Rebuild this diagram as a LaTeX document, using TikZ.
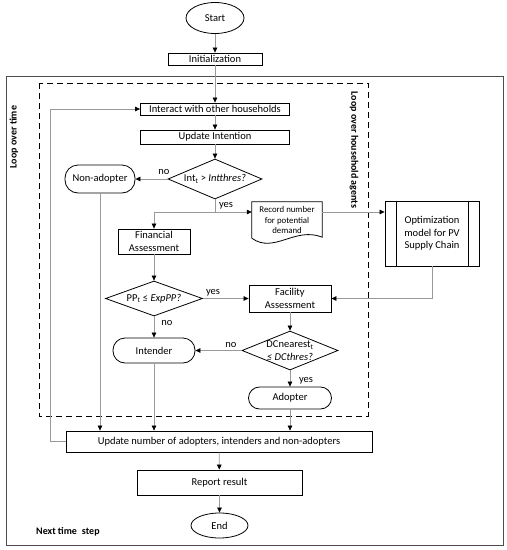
\documentclass[tikz,border=0pt]{standalone}
\usepackage{fontspec}
\setmainfont{Carlito}
\usetikzlibrary{shapes.geometric,arrows.meta,calc}
\begin{document}
\begin{tikzpicture}[x=1pt,y=-1pt,
  txt/.style={font=\fontsize{10.5}{12.3}\selectfont},
  box/.style={txt,draw=black,line width=0.8pt,rectangle,inner sep=1pt,align=center},
  term/.style={txt,draw=black,line width=0.8pt,ellipse,inner sep=0pt},
  rbox/.style={txt,draw=black,line width=0.8pt,rectangle,inner sep=1pt,align=center},
  dia/.style={txt,draw=black,line width=0.8pt,diamond,inner sep=0pt,align=center},
  conn/.style={draw=gray!80,line width=0.7pt},
  arr/.style={conn,-{Triangle[length=5pt,width=4.5pt,color=black]}},
  lbl/.style={txt,inner sep=0pt},
  blbl/.style={font=\bfseries\fontsize{10}{12}\selectfont,inner sep=0pt}
]
\useasboundingbox (0,0) rectangle (507,550);
% frames
\draw[draw=black!70,line width=0.9pt] (6,76) rectangle (503,545);
\draw[black,line width=1pt,dash pattern=on 6pt off 4pt] (39,83) rectangle (368,416);
\node[blbl,rotate=90] (lot) at (14,137) {Loop over time};
\node[blbl,rotate=-90] (loh) at (354,150) {Loop over household agents};
\node[blbl,anchor=west] (nts) at (36,532) {Next time\enspace step};

% nodes
\node[term,minimum width=58pt,minimum height=31pt] (start) at (215,18) {Start};
\node[box,minimum width=94pt,minimum height=12pt,inner sep=0pt] (init) at (215,59) {Initialization};
\node[box,minimum width=149pt,minimum height=12pt,inner sep=0pt] (inter) at (215,109) {Interact with other households};
\node[box,minimum width=149pt,minimum height=14pt,inner sep=0pt] (updint) at (215,137) {Update Intention};
\node[dia,minimum width=94pt,minimum height=40pt,aspect=2.35] (int) at (215,179) {Int\textsubscript{t} > \textit{Intthres?}};
\node[rbox,rounded corners=13pt,minimum width=70pt,minimum height=28pt] (non) at (100,179) {Non-adopter};
\node[box,minimum width=72pt,minimum height=25pt,inner sep=0pt] (fin) at (154,241.5) {Financial\\Assessment};
\node[font=\fontsize{8.8}{10.2}\selectfont,align=center,minimum width=70pt,minimum height=36pt,inner sep=0pt] (rec) at (287,220) {Record number\\for potential\\demand};
\draw[black,line width=0.8pt] (rec.south west) -- (rec.north west) -- (rec.north east) -- ($(rec.south east)+(0,-1)$)
  .. controls ($(rec.south east)+(-27,-12)$) and ($(rec.south west)+(22,16)$) .. (rec.south west);
\node[box,minimum width=94pt,minimum height=65pt,inner sep=0pt] (opt) at (432,233.5) {Optimization\\model for PV\\Supply Chain};
\draw[black,line width=0.8pt] ($(opt.north west)+(12,0)$) -- ($(opt.south west)+(12,0)$);
\draw[black,line width=0.8pt] ($(opt.north east)+(-11,0)$) -- ($(opt.south east)+(-11,0)$);
\node[dia,minimum width=97pt,minimum height=35pt,aspect=2.77] (pp) at (154,298.5) {PP\textsubscript{t} ≤ \textit{ExpPP?}};
\node[box,minimum width=82pt,minimum height=27pt,inner sep=0pt] (fac) at (290,298.5) {Facility\\Assessment};
\node[dia,minimum width=96pt,minimum height=39pt,aspect=2.46] (dc) at (290,350.5) {DCnearest\textsubscript{t}\\\textit{≤ DCthres?}};
\node[rbox,rounded corners=12pt,minimum width=82pt,minimum height=25pt] (intd) at (154,350.5) {Intender};
\node[rbox,rounded corners=11pt,minimum width=83pt,minimum height=22pt] (adop) at (290,398) {Adopter};
\node[box,minimum width=306pt,minimum height=21pt,inner sep=0pt] (upd) at (219,441.5) {Update number of adopters, intenders and non-adopters};
\node[box,minimum width=165pt,minimum height=25pt,inner sep=0pt] (rep) at (219.5,482.5) {Report result};
\node[term,minimum width=57pt,minimum height=25pt] (end) at (219.5,525.5) {End};

% connectors
\draw[arr] (start) -- (init);
\draw[arr] (init) -- (inter);
\draw[arr] (inter) -- (updint);
\draw[arr] (updint) -- (int);
\draw[arr] (int.west) -- (non.east);
\coordinate (j1) at (215,212);
\draw[conn] (int.south) -- (j1);
\draw[arr] (j1) -| (fin.north);
\draw[arr] (j1) -- (j1 -| rec.west);
\coordinate (j2) at ($(rec.north east)!0.28!(rec.south east)$);
\draw[arr] (j2) -- (j2 -| opt.west);
\draw[arr] (opt.south) |- (fac.east);
\draw[arr] (fin) -- (pp);
\draw[arr] (pp.east) -- (fac.west);
\draw[arr] (pp.south) -- (intd.north);
\draw[arr] (fac) -- (dc);
\draw[arr] (dc.west) -- (intd.east);
\draw[arr] (dc.south) -- (adop.north);
\draw[arr] (non.south) -- (non.south |- upd.north);
\draw[arr] (intd.south) -- (intd.south |- upd.north);
\draw[arr] (adop.south) -- (adop.south |- upd.north);
\draw[arr] (upd.west) -- ++(-15,0) |- (inter.west);
\draw[arr] (upd) -- (rep);
\draw[arr] (rep) -- (end);

% labels
\node[lbl] (l1) at (164,172) {no};
\node[lbl] (l2) at (226,206) {yes};
\node[lbl] (l3) at (213,293) {yes};
\node[lbl] (l4) at (167,323) {no};
\node[lbl] (l5) at (231,345) {no};
\node[lbl] (l6) at (306,381) {yes};
\end{tikzpicture}
\end{document}
